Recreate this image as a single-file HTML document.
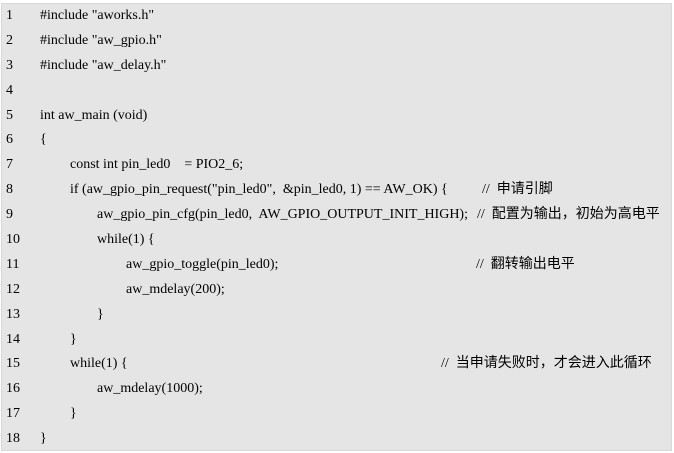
<!DOCTYPE html>
<html><head><meta charset="utf-8"><style>
body{margin:0;width:674px;height:453px;background:#fff;position:relative;overflow:hidden}
#box{position:absolute;left:1px;top:3px;width:671px;height:448px;background:#e5e5e5;border:1px solid #d8d8d8;box-sizing:border-box}
.l{position:absolute;font-family:"Liberation Serif","Noto Serif CJK SC",serif;font-size:14px;color:#000;white-space:pre;line-height:16px}
.c{font-family:"Liberation Serif","Noto Sans CJK SC",serif;font-size:14px}
</style></head><body><div id="box"></div>
<div class="l" style="left:6px;top:8px">1</div><div class="l" style="left:40px;top:8px">#include "aworks.h"</div>
<div class="l" style="left:6px;top:33px">2</div><div class="l" style="left:40px;top:33px">#include "aw_gpio.h"</div>
<div class="l" style="left:6px;top:58px">3</div><div class="l" style="left:40px;top:58px">#include "aw_delay.h"</div>
<div class="l" style="left:6px;top:83px">4</div>
<div class="l" style="left:6px;top:108px">5</div><div class="l" style="left:40px;top:108px">int aw_main (void)</div>
<div class="l" style="left:6px;top:132px">6</div><div class="l" style="left:40px;top:132px">{</div>
<div class="l" style="left:6px;top:157px">7</div><div class="l" style="left:70px;top:157px">const int pin_led0    = PIO2_6;</div>
<div class="l" style="left:6px;top:182px">8</div><div class="l" style="left:70px;top:182px">if (aw_gpio_pin_request("pin_led0",  &amp;pin_led0, 1) == AW_OK) {</div><div class="l c" style="left:482px;top:182px">//  申请引脚</div>
<div class="l" style="left:6px;top:207px">9</div><div class="l" style="left:97px;top:207px">aw_gpio_pin_cfg(pin_led0,  AW_GPIO_OUTPUT_INIT_HIGH);</div><div class="l c" style="left:477px;top:207px">//  配置为输出，初始为高电平</div>
<div class="l" style="left:6px;top:232px">10</div><div class="l" style="left:97px;top:232px">while(1) {</div>
<div class="l" style="left:6px;top:257px">11</div><div class="l" style="left:126px;top:257px">aw_gpio_toggle(pin_led0);</div><div class="l c" style="left:476px;top:257px">//  翻转输出电平</div>
<div class="l" style="left:6px;top:282px">12</div><div class="l" style="left:126px;top:282px">aw_mdelay(200);</div>
<div class="l" style="left:6px;top:307px">13</div><div class="l" style="left:97px;top:307px">}</div>
<div class="l" style="left:6px;top:332px">14</div><div class="l" style="left:70px;top:332px">}</div>
<div class="l" style="left:6px;top:356px">15</div><div class="l" style="left:70px;top:356px">while(1) {</div><div class="l c" style="left:441px;top:356px">//  当申请失败时，才会进入此循环</div>
<div class="l" style="left:6px;top:381px">16</div><div class="l" style="left:97px;top:381px">aw_mdelay(1000);</div>
<div class="l" style="left:6px;top:406px">17</div><div class="l" style="left:70px;top:406px">}</div>
<div class="l" style="left:6px;top:431px">18</div><div class="l" style="left:40px;top:431px">}</div>
</body></html>
